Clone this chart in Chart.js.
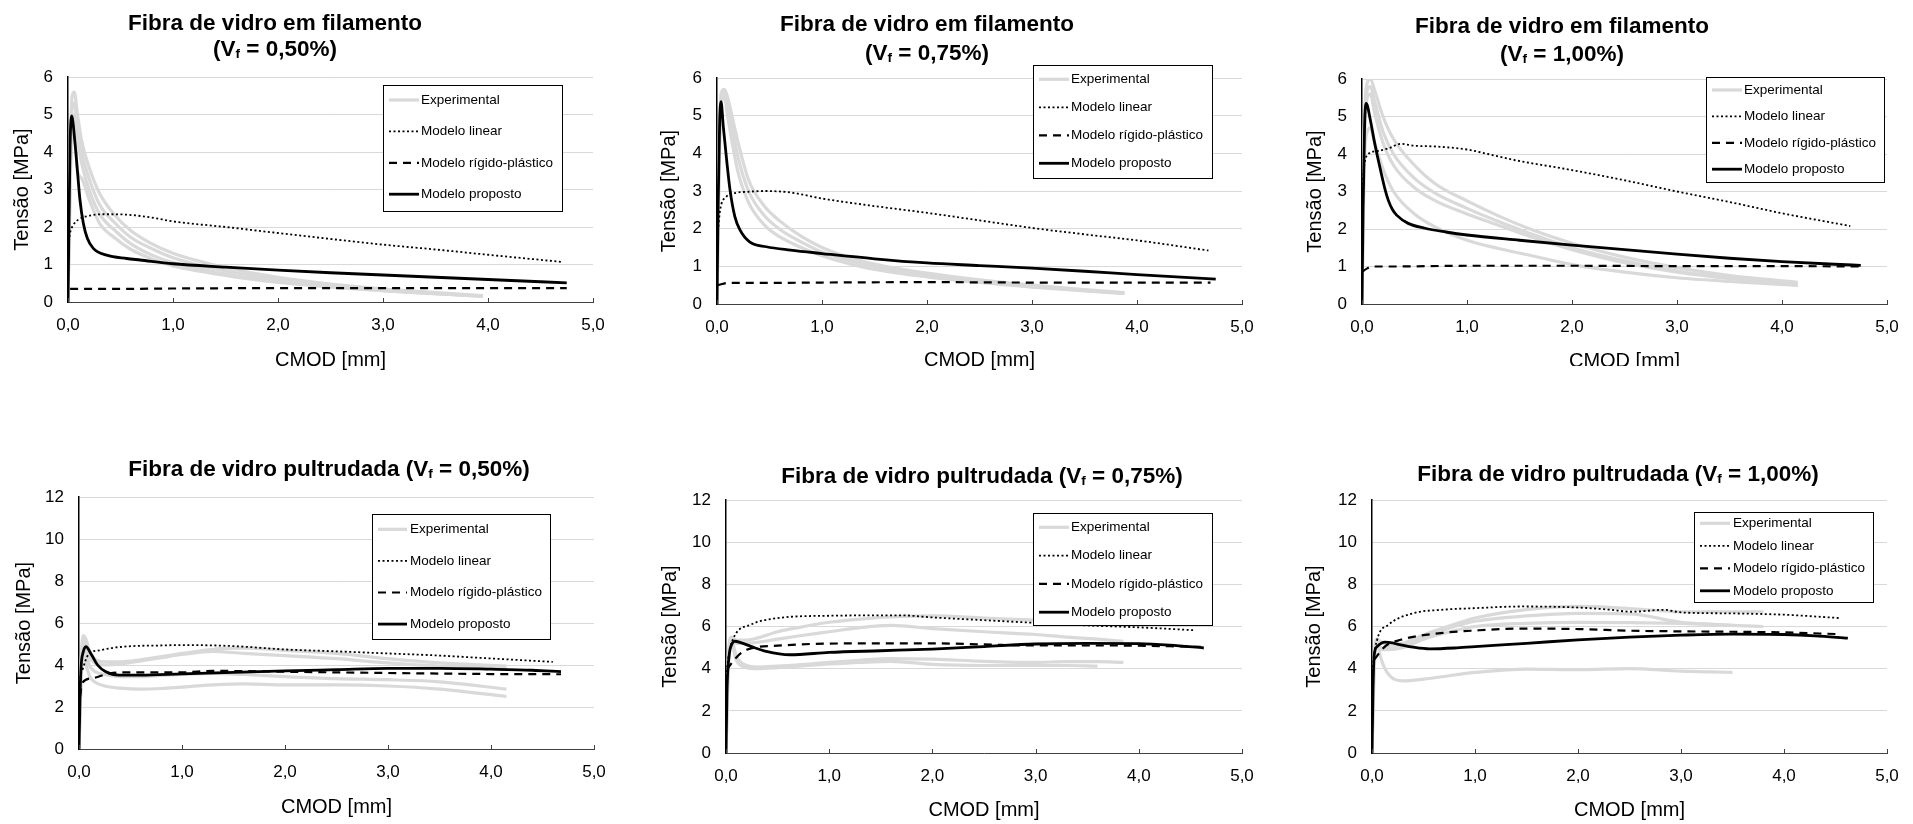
<!DOCTYPE html>
<html lang="pt">
<head>
<meta charset="UTF-8">
<title>Tensão x CMOD - fibra de vidro</title>
<script src="https://cdn.jsdelivr.net/npm/chart.js"></script>
<style>
  body { margin: 0; background: #fff; width: 1913px; height: 824px; position: relative; overflow: hidden; }
  canvas, .recorte { position: absolute; }
</style>
</head>
<body>
<canvas id="c1" width="640" height="420" style="left:0;top:0"></canvas>
<canvas id="c2" width="636" height="420" style="left:640px;top:0"></canvas>
<div class="recorte" style="left:1276px;top:0;width:637px;height:366px;overflow:hidden">
  <canvas id="c3" width="637" height="420" style="left:0;top:0"></canvas>
</div>
<canvas id="c4" width="640" height="404" style="left:0;top:420px"></canvas>
<canvas id="c5" width="636" height="404" style="left:640px;top:420px"></canvas>
<canvas id="c6" width="637" height="404" style="left:1276px;top:420px"></canvas>

<script>
// ---- dados (CMOD em mm, tensão em MPa) ----

// fibra em filamento, Vf = 0,50%
const fil050ExpX = [0, 0.02, 0.04, 0.06, 0.09, 0.13, 0.2, 0.3, 0.45, 0.6, 0.8, 1.0, 1.3, 1.6, 2.0, 2.5, 3.0, 3.5, 3.95];
const fil050Exp = [
  [0, 3.8, 5.5, 5.6, 5.0, 4.3, 3.6, 2.9, 2.3, 1.9, 1.55, 1.3, 1.05, 0.86, 0.66, 0.48, 0.35, 0.25, 0.17],
  [0, 3.5, 5.2, 5.3, 4.7, 4.0, 3.3, 2.6, 2.1, 1.72, 1.42, 1.18, 0.95, 0.78, 0.6, 0.44, 0.32, 0.23, 0.16],
  [0, 3.2, 4.9, 5.0, 4.4, 3.7, 3.0, 2.35, 1.9, 1.55, 1.25, 1.05, 0.86, 0.7, 0.55, 0.41, 0.3, 0.22, 0.15],
  [0, 3.0, 4.6, 4.7, 3.5, 3.3, 2.75, 2.1, 1.7, 1.4, 1.15, 0.96, 0.8, 0.66, 0.52, 0.4, 0.3, 0.22, 0.15]
];
const fil050LinX = [0, 0.02, 0.05, 0.1, 0.2, 0.35, 0.55, 0.8, 1.0, 1.5, 2.0, 2.5, 3.0, 3.5, 4.0, 4.7];
const fil050Lin = [1.5, 1.85, 2.05, 2.2, 2.3, 2.34, 2.33, 2.25, 2.15, 2.0, 1.84, 1.68, 1.53, 1.4, 1.26, 1.07];
const fil050RigX = [0.02, 0.5, 1.0, 2.0, 3.0, 4.0, 4.75];
const fil050Rig = [0.35, 0.35, 0.36, 0.37, 0.37, 0.37, 0.37];
const fil050PropX = [0, 0.01, 0.02, 0.035, 0.067, 0.089, 0.114, 0.146, 0.184, 0.241, 0.368, 0.559, 0.686, 1.0, 1.5, 2.0, 2.5, 3.0, 3.5, 4.0, 4.5, 4.75];
const fil050Prop = [0, 2.2, 4.2, 4.96, 4.23, 3.52, 2.72, 2.1, 1.7, 1.43, 1.25, 1.16, 1.12, 1.02, 0.93, 0.85, 0.78, 0.72, 0.66, 0.6, 0.54, 0.51];

// fibra em filamento, Vf = 0,75%
const fil075ExpX = [0, 0.02, 0.04, 0.07, 0.1, 0.15, 0.2, 0.3, 0.45, 0.6, 0.8, 1.0, 1.3, 1.6, 2.0, 2.5, 3.0, 3.5, 3.88];
const fil075Exp = [
  [0, 4.0, 5.6, 5.7, 5.5, 4.9, 4.3, 3.3, 2.6, 2.2, 1.8, 1.5, 1.2, 1.0, 0.82, 0.64, 0.5, 0.38, 0.3],
  [0, 3.8, 5.4, 5.65, 5.3, 4.6, 3.9, 3.0, 2.35, 1.98, 1.65, 1.38, 1.12, 0.94, 0.77, 0.6, 0.47, 0.36, 0.28],
  [0, 3.6, 5.3, 5.5, 5.0, 4.2, 3.5, 2.7, 2.1, 1.78, 1.5, 1.28, 1.04, 0.87, 0.72, 0.57, 0.45, 0.35, 0.28]
];
const fil075LinX = [0, 0.01, 0.03, 0.09, 0.18, 0.3, 0.45, 0.7, 1.0, 1.5, 2.0, 2.5, 3.0, 3.5, 4.0, 4.68];
const fil075Lin = [1.7, 1.96, 2.5, 2.85, 2.95, 2.98, 3.0, 2.96, 2.8, 2.6, 2.42, 2.22, 2.02, 1.85, 1.69, 1.42];
const fil075RigX = [0.01, 0.1, 0.5, 1.0, 2.0, 3.0, 4.0, 4.7];
const fil075Rig = [0.5, 0.56, 0.56, 0.57, 0.58, 0.57, 0.57, 0.57];
const fil075PropX = [0, 0.01, 0.025, 0.038, 0.06, 0.092, 0.124, 0.17, 0.22, 0.31, 0.47, 0.7, 1.0, 1.5, 2.0, 2.5, 3.0, 3.5, 4.0, 4.5, 4.75];
const fil075Prop = [0, 2.5, 4.8, 5.37, 4.71, 3.82, 3.03, 2.32, 1.96, 1.65, 1.52, 1.43, 1.34, 1.2, 1.09, 1.02, 0.95, 0.87, 0.78, 0.7, 0.66];

// fibra em filamento, Vf = 1,00%
const fil100ExpX = [0, 0.02, 0.05, 0.08, 0.12, 0.2, 0.3, 0.5, 0.7, 1.0, 1.3, 1.6, 2.0, 2.5, 3.0, 3.5, 4.15];
const fil100Exp = [
  [0, 4.5, 5.9, 6.0, 5.7, 5.0, 4.4, 3.7, 3.2, 2.75, 2.35, 2.0, 1.62, 1.25, 0.97, 0.76, 0.58],
  [0, 4.3, 5.7, 5.8, 5.4, 4.6, 4.0, 3.35, 2.95, 2.55, 2.2, 1.88, 1.5, 1.15, 0.88, 0.7, 0.52],
  [0, 4.0, 5.5, 5.6, 5.1, 4.3, 3.7, 3.1, 2.75, 2.4, 2.1, 1.8, 1.45, 1.1, 0.85, 0.68, 0.5],
  [0, 3.6, 4.6, 4.7, 4.3, 3.6, 3.0, 2.4, 2.05, 1.7, 1.48, 1.3, 1.05, 0.85, 0.7, 0.6, 0.5]
];
const fil100LinX = [0, 0.02, 0.06, 0.15, 0.25, 0.37, 0.5, 0.7, 1.0, 1.2, 1.45, 2.0, 2.5, 3.0, 3.5, 4.0, 4.65];
const fil100Lin = [2.95, 3.66, 4.0, 4.08, 4.15, 4.27, 4.22, 4.2, 4.12, 4.0, 3.84, 3.57, 3.3, 3.0, 2.72, 2.42, 2.08];
const fil100RigX = [0, 0.05, 0.1, 0.3, 1.0, 2.0, 3.0, 4.0, 4.75];
const fil100Rig = [0.86, 0.95, 1.0, 1.0, 1.02, 1.02, 1.01, 1.01, 1.0];
const fil100PropX = [0, 0.01, 0.025, 0.04, 0.08, 0.115, 0.15, 0.19, 0.22, 0.25, 0.29, 0.33, 0.44, 0.6, 0.8, 1.0, 1.5, 2.0, 2.5, 3.0, 3.5, 4.0, 4.5, 4.75];
const fil100Prop = [0, 2.5, 4.8, 5.35, 4.9, 4.37, 3.9, 3.4, 3.05, 2.77, 2.52, 2.37, 2.15, 2.02, 1.92, 1.84, 1.7, 1.57, 1.45, 1.33, 1.22, 1.13, 1.06, 1.03];

// fibra pultrudada, Vf = 0,50%
const pul050ExpX = [0, 0.02, 0.04, 0.07, 0.1, 0.15, 0.25, 0.4, 0.6, 0.8, 1.0, 1.3, 1.6, 2.0, 2.5, 3.0, 3.5, 4.15];
const pul050Exp = [
  [0, 4.0, 5.4, 5.2, 4.7, 4.3, 4.15, 4.15, 4.25, 4.4, 4.55, 4.75, 4.8, 4.7, 4.55, 4.3, 4.1, 3.95],
  [0, 3.8, 5.2, 4.9, 4.4, 4.1, 4.0, 4.05, 4.2, 4.35, 4.5, 4.65, 4.55, 4.45, 4.3, 4.1, 3.95, 3.85],
  [0, 3.5, 5.0, 4.6, 4.0, 3.7, 3.55, 3.45, 3.45, 3.5, 3.55, 3.6, 3.55, 3.45, 3.35, 3.3, 3.2, 2.85],
  [0, 3.2, 4.6, 4.0, 3.5, 3.2, 3.0, 2.9, 2.85, 2.88, 2.95, 3.05, 3.1, 3.05, 3.05, 3.0, 2.85, 2.5]
];
const pul050LinX = [0, 0.01, 0.033, 0.1, 0.2, 0.33, 0.52, 0.8, 1.0, 1.5, 2.0, 2.5, 3.0, 3.5, 4.0, 4.6];
const pul050Lin = [2.5, 3.3, 3.76, 4.55, 4.7, 4.82, 4.9, 4.93, 4.95, 4.9, 4.74, 4.65, 4.55, 4.45, 4.31, 4.15];
const pul050RigX = [0.01, 0.03, 0.13, 0.3, 0.5, 1.0, 1.3, 2.0, 3.0, 4.0, 4.68];
const pul050Rig = [2.5, 3.13, 3.37, 3.6, 3.65, 3.65, 3.72, 3.68, 3.62, 3.57, 3.56];
const pul050PropX = [0, 0.01, 0.02, 0.04, 0.068, 0.12, 0.18, 0.26, 0.39, 0.6, 1.0, 1.5, 2.0, 2.5, 3.0, 3.5, 4.0, 4.4, 4.68];
const pul050Prop = [0, 2.5, 3.9, 4.6, 4.87, 4.5, 4.0, 3.68, 3.52, 3.52, 3.58, 3.65, 3.72, 3.78, 3.84, 3.84, 3.8, 3.75, 3.68];

// fibra pultrudada, Vf = 0,75%
const pul075ExpX = [0, 0.02, 0.05, 0.1, 0.2, 0.3, 0.5, 0.7, 1.0, 1.3, 1.6, 2.0, 2.5, 3.0, 3.3, 3.6, 3.85];
const pul075Exp = [
  [0, 4.2, 5.5, 5.35, 5.35, 5.45, 5.75, 5.95, 6.2, 6.35, 6.45, 6.5, 6.4, 6.3, 6.25, 6.2, 6.15],
  [0, 4.0, 5.4, 5.2, 5.2, 5.25, 5.4, 5.55, 5.75, 5.95, 6.05, 5.9, 5.75, 5.62, 5.5, 5.4, 5.3],
  [0, 4.0, 5.4, 4.6, 4.15, 4.08, 4.12, 4.18, 4.3, 4.4, 4.48, 4.45, 4.35, 4.3, 4.33, 4.33, 4.3],
  [0, 3.8, 5.2, 4.4, 4.05, 4.0, 4.05, 4.12, 4.22, 4.3, 4.35, 4.2, 4.15, 4.15, 4.15, 4.12, null]
];
const pul075LinX = [0, 0.01, 0.03, 0.08, 0.24, 0.5, 1.0, 1.7, 2.0, 2.5, 3.0, 3.5, 4.0, 4.55];
const pul075Lin = [3.2, 4.0, 4.74, 5.53, 6.09, 6.4, 6.51, 6.53, 6.43, 6.3, 6.17, 6.05, 5.96, 5.82];
const pul075RigX = [0.01, 0.08, 0.2, 0.5, 1.0, 1.5, 2.0, 2.5, 3.0, 3.5, 4.0, 4.6];
const pul075Rig = [3.95, 4.43, 4.9, 5.09, 5.19, 5.2, 5.2, 5.15, 5.1, 5.1, 5.09, 5.03];
const pul075PropX = [0, 0.01, 0.03, 0.06, 0.085, 0.15, 0.24, 0.39, 0.62, 1.0, 1.5, 2.0, 2.5, 3.0, 3.5, 4.0, 4.3, 4.63];
const pul075Prop = [0, 3.0, 4.6, 5.2, 5.3, 5.22, 5.06, 4.82, 4.66, 4.77, 4.85, 4.93, 5.05, 5.17, 5.2, 5.19, 5.12, 4.98];

// fibra pultrudada, Vf = 1,00%
const pul100ExpX = [0, 0.02, 0.05, 0.08, 0.15, 0.3, 0.5, 0.8, 1.0, 1.5, 2.0, 2.5, 3.0, 3.3, 3.5, 3.8];
const pul100Exp = [
  [0, 4.5, 5.4, 5.3, 5.1, 5.2, 5.6, 6.1, 6.4, 6.8, 6.95, 6.85, 6.7, 6.7, 6.7, 6.7],
  [0, 4.3, 5.2, 5.0, 4.95, 5.1, 5.5, 6.0, 6.25, 6.5, 6.62, 6.6, 6.2, 6.1, 6.05, null],
  [0, 4.1, 5.0, 4.9, 4.9, 5.0, 5.4, 5.8, 6.0, 6.15, 6.2, 6.18, 6.15, 6.1, 6.05, 6.0],
  [0, 3.8, 5.3, 4.6, 3.8, 3.42, 3.5, 3.7, 3.82, 3.98, 3.95, 4.0, 3.88, 3.85, 3.82, null]
];
const pul100LinX = [0, 0.01, 0.05, 0.16, 0.4, 0.67, 1.0, 1.46, 2.0, 2.3, 2.52, 2.83, 3.0, 3.5, 4.0, 4.54];
const pul100Lin = [3.0, 4.1, 5.37, 6.08, 6.63, 6.79, 6.87, 6.95, 6.9, 6.8, 6.7, 6.79, 6.67, 6.62, 6.56, 6.4];
const pul100RigX = [0.02, 0.125, 0.28, 0.67, 1.0, 1.46, 2.0, 2.5, 3.0, 3.5, 4.0, 4.52];
const pul100Rig = [4.42, 5.05, 5.37, 5.69, 5.81, 5.9, 5.88, 5.8, 5.77, 5.75, 5.72, 5.64];
const pul100PropX = [0, 0.01, 0.02, 0.05, 0.125, 0.2, 0.28, 0.4, 0.56, 0.8, 1.0, 1.5, 2.0, 2.5, 3.0, 3.5, 4.0, 4.3, 4.62];
const pul100Prop = [0, 3.0, 4.58, 5.05, 5.26, 5.22, 5.13, 5.02, 4.94, 4.98, 5.05, 5.2, 5.37, 5.5, 5.59, 5.64, 5.62, 5.56, 5.45];

const nomesLegenda = ['Experimental', 'Modelo linear', 'Modelo rígido-plástico', 'Modelo proposto'];

// ---- plugins ----
const FONTE = '"Liberation Sans", Arial, Helvetica, sans-serif';

// titulo com o "f" de Vf em subscrito
const tituloPainel = {
  id: 'tituloPainel',
  afterDraw(chart, args, o) {
    const ctx = chart.ctx;
    ctx.save();
    ctx.fillStyle = '#000';
    ctx.textBaseline = 'alphabetic';
    o.linhas.forEach((linha, i) => {
      const partes = linha.split('|');
      const fontes = partes.map((p, k) => 'bold ' + (k % 2 ? o.tam * 0.6 : o.tam) + 'px ' + FONTE);
      let total = 0;
      const larg = partes.map((p, k) => { ctx.font = fontes[k]; const w = ctx.measureText(p).width; total += w; return w; });
      let x = o.cx - total / 2;
      const base = o.ys[i] + o.tam * 0.36;
      partes.forEach((p, k) => {
        ctx.font = fontes[k];
        ctx.fillText(p, x, base + (k % 2 ? 2 : 0));
        x += larg[k];
      });
    });
    ctx.restore();
  }
};

// legenda em caixa dentro da area do grafico
const legendaCaixa = {
  id: 'legendaCaixa',
  afterDraw(chart, args, o) {
    const ctx = chart.ctx;
    ctx.save();
    ctx.fillStyle = '#fff';
    ctx.fillRect(o.x, o.y, o.w, o.h);
    ctx.strokeStyle = '#000';
    ctx.lineWidth = 1;
    ctx.strokeRect(o.x + 0.5, o.y + 0.5, o.w, o.h);
    ctx.font = '13.5px ' + FONTE;
    ctx.textBaseline = 'middle';
    nomesLegenda.forEach((nome, i) => {
      const ds = chart.data.datasets.find(d => d.label === nome);
      const y = o.y0 + i * o.passo;
      ctx.beginPath();
      ctx.setLineDash(ds.borderDash || []);
      ctx.lineWidth = ds.borderWidth;
      ctx.strokeStyle = ds.borderColor;
      ctx.moveTo(o.x1, y);
      ctx.lineTo(o.x2, y);
      ctx.stroke();
      ctx.setLineDash([]);
      ctx.fillStyle = '#000';
      ctx.fillText(nome, o.tx, y);
    });
    ctx.restore();
  }
};

// pequenas marcas no eixo x, voltadas para dentro
const marcasX = {
  id: 'marcasX',
  afterDraw(chart) {
    const s = chart.scales.x;
    const b = chart.chartArea.bottom;
    const ctx = chart.ctx;
    ctx.save();
    ctx.strokeStyle = '#404040';
    ctx.lineWidth = 1;
    s.ticks.forEach(t => {
      const px = Math.round(s.getPixelForValue(t.value)) + 0.5;
      ctx.beginPath();
      ctx.moveTo(px, b);
      ctx.lineTo(px, b - 4);
      ctx.stroke();
    });
    ctx.restore();
  }
};

Chart.register(tituloPainel, legendaCaixa, marcasX);
Chart.defaults.font.family = FONTE;
Chart.defaults.color = '#000';

function pontos(xs, ys) {
  const out = [];
  ys.forEach((y, i) => { if (y !== null) out.push({ x: xs[i], y: y }); });
  return out;
}

function conjuntos(p) {
  const ds = [
    { label: 'Modelo proposto', data: pontos(p.propX, p.prop), borderColor: '#000', borderWidth: 2.8, order: 0 },
    { label: 'Modelo rígido-plástico', data: pontos(p.rigX, p.rig), borderColor: '#000', borderWidth: 2.2, borderDash: [8, 6], order: 1 },
    { label: 'Modelo linear', data: pontos(p.linX, p.lin), borderColor: '#000', borderWidth: 1.8, borderDash: [2, 2.5], order: 2 }
  ];
  p.exp.forEach((serie, i) => {
    ds.push({ label: i === 0 ? 'Experimental' : 'Experimental ' + (i + 1), data: pontos(p.expX, serie),
              borderColor: '#d9d9d9', borderWidth: 3.2, order: 3 });
  });
  return ds;
}

function criar(p) {
  new Chart(document.getElementById(p.id), {
    type: 'line',
    data: { datasets: conjuntos(p) },
    options: {
      responsive: false,
      animation: false,
      layout: { padding: p.pad },
      elements: {
        point: { radius: 0 },
        line: { cubicInterpolationMode: 'monotone', fill: false, borderCapStyle: 'butt' }
      },
      plugins: {
        legend: { display: false },
        title: { display: false },
        tooltip: { enabled: false },
        tituloPainel: p.titulo,
        legendaCaixa: p.leg
      },
      scales: {
        x: {
          type: 'linear', min: 0, max: 5,
          ticks: { stepSize: 1, padding: 13, maxRotation: 0, font: { size: 17 }, color: '#000',
                   callback: v => v.toFixed(1).replace('.', ',') },
          grid: { display: false, drawTicks: false },
          border: { display: true, color: '#404040', width: 1 },
          title: { display: true, text: 'CMOD [mm]', font: { size: 20 }, color: '#000', padding: 0 },
          afterFit: s => { s.height = p.xh; }
        },
        y: {
          min: 0, max: p.ymax,
          ticks: { stepSize: p.ystep, padding: 15, font: { size: 17 }, color: '#000' },
          grid: { color: '#d9d9d9', lineWidth: 1, drawTicks: false },
          border: { color: '#000', width: 1.5 },
          title: { display: true, text: 'Tensão [MPa]', font: { size: 20 }, color: '#000', padding: 0 },
          afterFit: s => { s.width = p.yw; }
        }
      }
    }
  });
}

const topo = 22.5;

criar({ id: 'c1', expX: fil050ExpX, exp: fil050Exp, linX: fil050LinX, lin: fil050Lin, rigX: fil050RigX, rig: fil050Rig,
  propX: fil050PropX, prop: fil050Prop, ymax: 6, ystep: 1,
  pad: { left: 10, right: 47, top: 77, bottom: 48 }, yw: 58, xh: 70,
  titulo: { cx: 275, ys: [22, 48], tam: topo, linhas: ['Fibra de vidro em filamento', '(V|f| = 0,50%)'] },
  leg: { x: 383, y: 85, w: 179, h: 126, y0: 100, passo: 31.4, x1: 389, x2: 419, tx: 421 } });

criar({ id: 'c2', expX: fil075ExpX, exp: fil075Exp, linX: fil075LinX, lin: fil075Lin, rigX: fil075RigX, rig: fil075Rig,
  propX: fil075PropX, prop: fil075Prop, ymax: 6, ystep: 1,
  pad: { left: 17, right: 34, top: 78, bottom: 48 }, yw: 60, xh: 68,
  titulo: { cx: 287, ys: [23, 52], tam: topo, linhas: ['Fibra de vidro em filamento', '(V|f| = 0,75%)'] },
  leg: { x: 393, y: 65, w: 179, h: 113, y0: 79.3, passo: 28, x1: 399, x2: 429, tx: 431 } });

criar({ id: 'c3', expX: fil100ExpX, exp: fil100Exp, linX: fil100LinX, lin: fil100Lin, rigX: fil100RigX, rig: fil100Rig,
  propX: fil100PropX, prop: fil100Prop, ymax: 6, ystep: 1,
  pad: { left: 27, right: 26, top: 79, bottom: 47 }, yw: 59, xh: 69,
  titulo: { cx: 286, ys: [25, 53], tam: topo, linhas: ['Fibra de vidro em filamento', '(V|f| = 1,00%)'] },
  leg: { x: 430, y: 77, w: 178, h: 105, y0: 90, passo: 26.4, x1: 436, x2: 466, tx: 468 } });

criar({ id: 'c4', expX: pul050ExpX, exp: pul050Exp, linX: pul050LinX, lin: pul050Lin, rigX: pul050RigX, rig: pul050Rig,
  propX: pul050PropX, prop: pul050Prop, ymax: 12, ystep: 2,
  pad: { left: 12, right: 46, top: 77, bottom: 5 }, yw: 67, xh: 70,
  titulo: { cx: 329, ys: [48], tam: topo, linhas: ['Fibra de vidro pultrudada (V|f| = 0,50%)'] },
  leg: { x: 372, y: 94, w: 178, h: 125, y0: 109.3, passo: 31.6, x1: 378, x2: 407, tx: 410 } });

criar({ id: 'c5', expX: pul075ExpX, exp: pul075Exp, linX: pul075LinX, lin: pul075Lin, rigX: pul075RigX, rig: pul075Rig,
  propX: pul075PropX, prop: pul075Prop, ymax: 12, ystep: 2,
  pad: { left: 18, right: 34, top: 80, bottom: 2 }, yw: 68, xh: 69,
  titulo: { cx: 342, ys: [55], tam: topo, linhas: ['Fibra de vidro pultrudada (V|f| = 0,75%)'] },
  leg: { x: 393, y: 93, w: 179, h: 112, y0: 107.3, passo: 28.3, x1: 399, x2: 429, tx: 431 } });

criar({ id: 'c6', expX: pul100ExpX, exp: pul100Exp, linX: pul100LinX, lin: pul100Lin, rigX: pul100RigX, rig: pul100Rig,
  propX: pul100PropX, prop: pul100Prop, ymax: 12, ystep: 2,
  pad: { left: 26, right: 26, top: 80, bottom: 2 }, yw: 70, xh: 69,
  titulo: { cx: 342, ys: [53], tam: topo, linhas: ['Fibra de vidro pultrudada (V|f| = 1,00%)'] },
  leg: { x: 418, y: 92, w: 179, h: 90, y0: 103.3, passo: 22.5, x1: 424, x2: 454, tx: 457 } });
</script>
</body>
</html>
